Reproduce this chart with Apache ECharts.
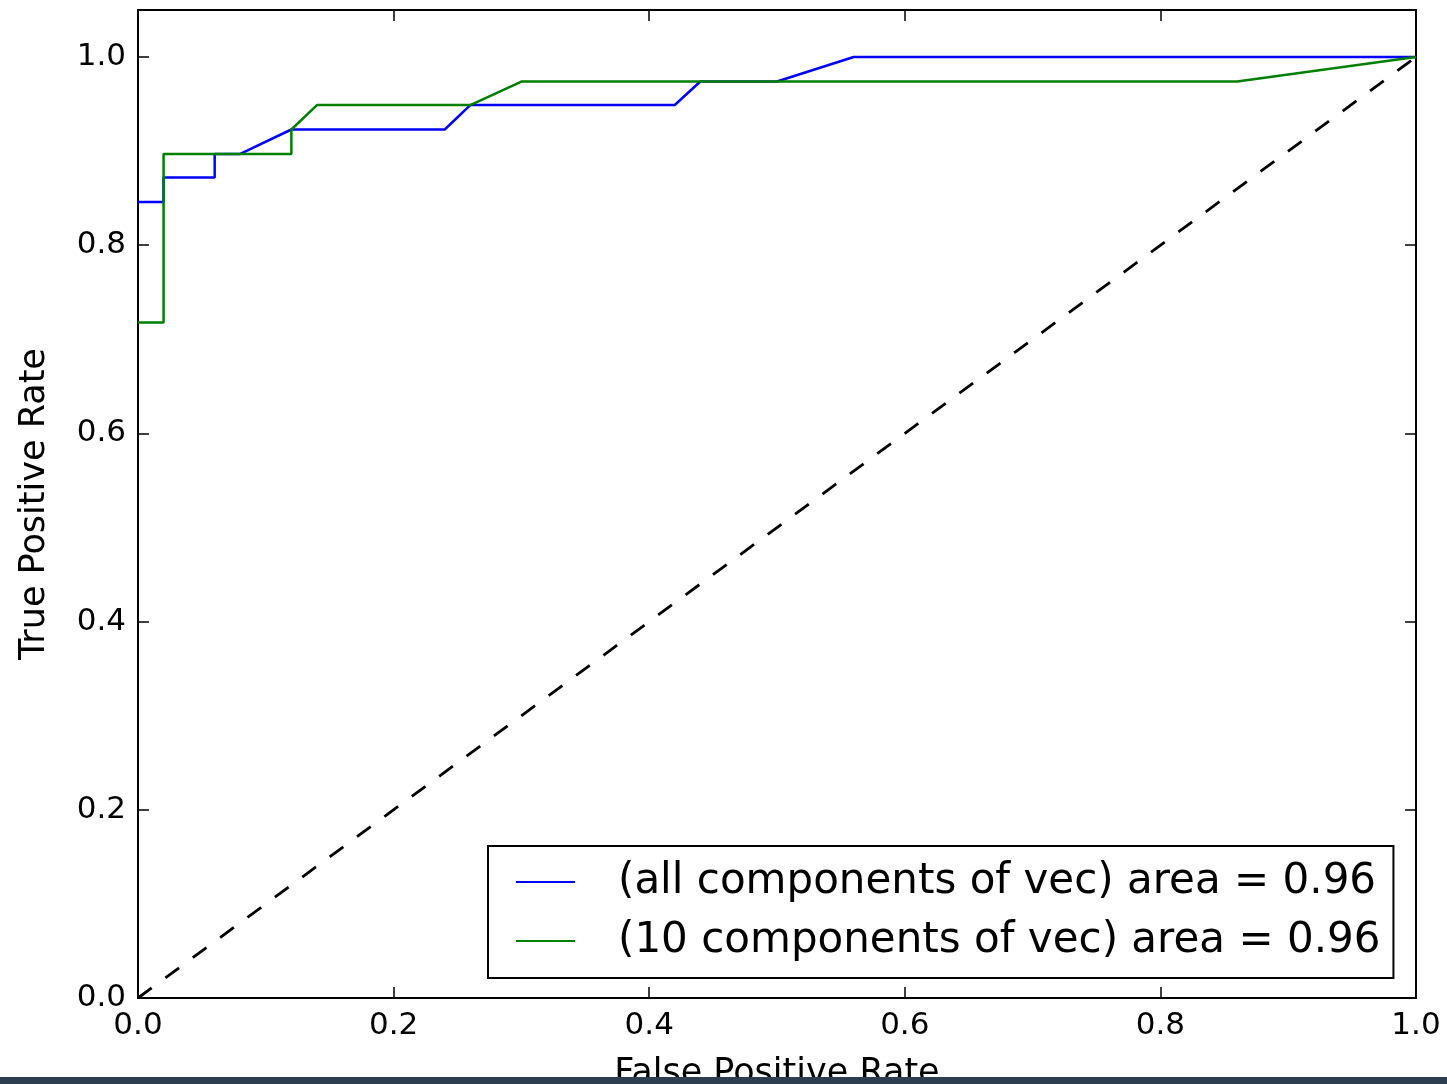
<!DOCTYPE html>
<html>
<head>
<meta charset="utf-8">
<script src="https://cdn.jsdelivr.net/npm/echarts@6/dist/echarts.min.js"></script>
<style>
html,body{margin:0;padding:0;background:#fff;}
#chart{width:1447px;height:1084px;}
</style>
</head>
<body>
<div id="chart"></div>
<script>
// ROC data
const fprAll = [0, 0.02, 0.02, 0.06, 0.06, 0.08, 0.12, 0.24, 0.26, 0.42, 0.44, 0.50, 0.56, 1.0];
const tprAll = [0.846, 0.846, 0.872, 0.872, 0.897, 0.897, 0.923, 0.923, 0.949, 0.949, 0.974, 0.974, 1.0, 1.0];
const fpr10 = [0, 0.02, 0.02, 0.12, 0.12, 0.14, 0.26, 0.30, 0.86, 1.0];
const tpr10 = [0.718, 0.718, 0.897, 0.897, 0.923, 0.949, 0.949, 0.974, 0.974, 1.0];
const chanceX = [0, 1];
const chanceY = [0, 1];
const seriesNames = ['(all components of vec) area = 0.96', '(10 components of vec) area = 0.96'];
const xTitle = 'False Positive Rate';
const yTitle = 'True Positive Rate';

const zip = (a, b) => a.map((v, i) => [v, b[i]]);
const FONT = 'DejaVu Sans';
const fmt = v => (Math.abs(v / 0.2 - Math.round(v / 0.2)) < 1e-6 ? v.toFixed(1) : '');
const mkLine = () => ({show: true, onZero: false, lineStyle: {color: '#000', width: 2}});
const mkTick = () => ({show: true, inside: true, length: 11, lineStyle: {color: '#000', width: 1.5}});

const chart = echarts.init(document.getElementById('chart'), null, {renderer: 'canvas'});

chart.setOption({
  animation: false,
  backgroundColor: '#fff',
  grid: {left: 138, right: 31, top: 10, bottom: 86, containLabel: false, outerBoundsMode: 'none',
         show: true, borderColor: '#000', borderWidth: 2, backgroundColor: 'transparent'},
  xAxis: [{
    type: 'value', min: 0, max: 1, interval: 0.2, position: 'bottom', show: true,
    name: xTitle, nameLocation: 'middle', nameGap: 58,
    nameTextStyle: {fontFamily: FONT, fontSize: 35, color: '#000'},
    axisLine: mkLine(), axisTick: mkTick(), splitLine: {show: false},
    axisLabel: {formatter: fmt, fontFamily: FONT, fontSize: 31, color: '#000', margin: 12}
  }, {
    type: 'value', min: 0, max: 1, interval: 0.2, position: 'top', show: true,
    axisLine: mkLine(), axisTick: mkTick(), splitLine: {show: false}, axisLabel: {show: false}
  }],
  yAxis: [{
    type: 'value', min: 0, max: 1.05, interval: 0.2, position: 'left', show: true,
    name: yTitle, nameLocation: 'middle', nameGap: 86, nameRotate: 90,
    nameTextStyle: {fontFamily: FONT, fontSize: 35, color: '#000'},
    axisLine: mkLine(), axisTick: mkTick(), splitLine: {show: false},
    axisLabel: {formatter: fmt, fontFamily: FONT, fontSize: 31, color: '#000', margin: 12}
  }, {
    type: 'value', min: 0, max: 1.05, interval: 0.2, position: 'right', show: true,
    axisLine: mkLine(), axisTick: mkTick(), splitLine: {show: false}, axisLabel: {show: false}
  }],
  legend: {
    orient: 'vertical', left: 488, top: 846,
    data: seriesNames,
    icon: 'rect', itemWidth: 59, itemHeight: 2, itemGap: 17,
    padding: [15, 13, 16, 28],
    borderColor: '#000', borderWidth: 2, backgroundColor: '#fff',
    textStyle: {fontFamily: FONT, fontSize: 42, lineHeight: 42, color: '#000', padding: [0, 0, 0, 38]}
  },
  series: [{
    name: seriesNames[0], type: 'line', data: zip(fprAll, tprAll), xAxisIndex: 0, yAxisIndex: 0,
    symbol: 'none', lineStyle: {color: '#0000ff', width: 2.5}, itemStyle: {color: '#0000ff'}, z: 2
  }, {
    name: seriesNames[1], type: 'line', data: zip(fpr10, tpr10), xAxisIndex: 0, yAxisIndex: 0,
    symbol: 'none', lineStyle: {color: '#008000', width: 2.5}, itemStyle: {color: '#008000'}, z: 3
  }, {
    name: 'chance', type: 'line', data: zip(chanceX, chanceY), xAxisIndex: 1, yAxisIndex: 1,
    symbol: 'none', lineStyle: {color: '#000', width: 2.8, type: [17, 17]}, z: 4
  }],
  graphic: [{
    type: 'rect', left: 0, top: 1077, z: 100,
    shape: {width: 1447, height: 7}, style: {fill: '#2d3e50'}
  }]
});
</script>
</body>
</html>
